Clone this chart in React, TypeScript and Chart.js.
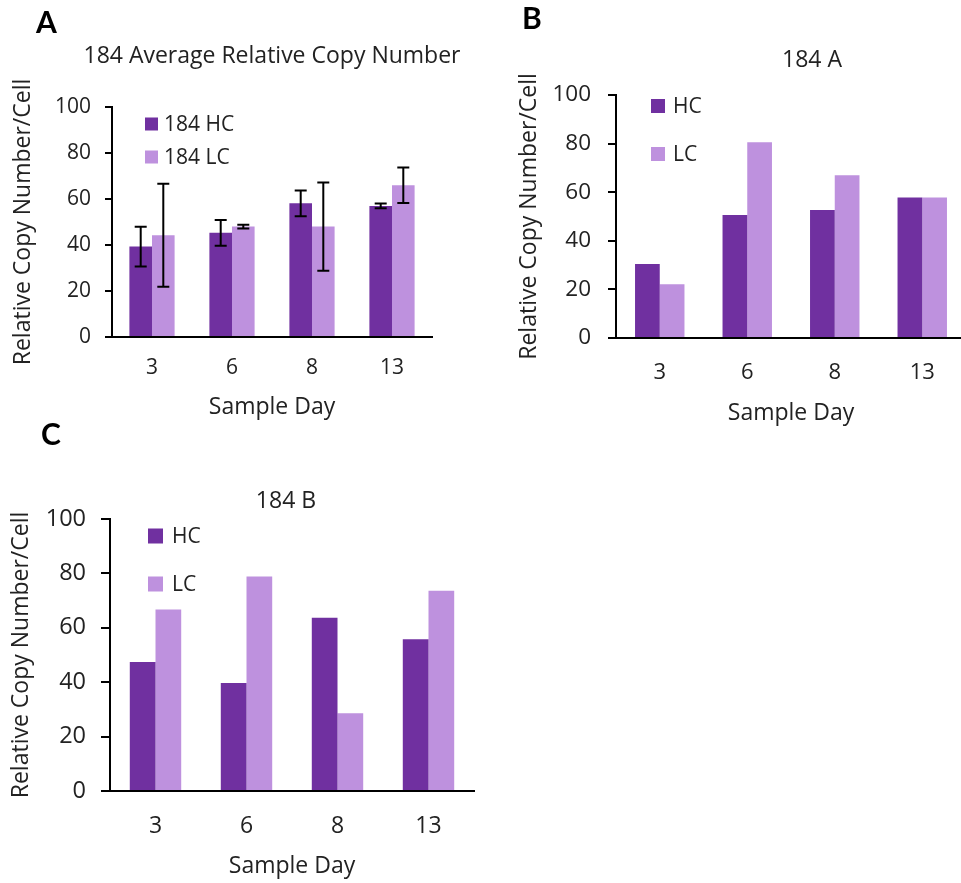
import React, { useEffect, useRef } from 'react';
import { Chart, registerables } from 'chart.js';

Chart.register(...registerables);

// ---------- data ----------
const categories = ['3', '6', '8', '13'];
const yTickValues = [0, 20, 40, 60, 80, 100];

// Panel A: 184 average
const avgHC = [39.3, 45.3, 58.1, 57.0];
const avgHCErr = [8.6, 5.6, 5.6, 1.0];
const avgLC = [44.2, 48.0, 48.0, 66.0];
const avgLCErr = [22.4, 0.8, 19.2, 7.7];

// Panel B: 184 A
const aHC = [30.5, 50.6, 52.7, 57.8];
const aLC = [22.1, 80.6, 67.0, 57.8];

// Panel C: 184 B
const bHC = [47.4, 39.7, 63.7, 55.8];
const bLC = [66.7, 78.9, 28.6, 73.6];

// ---------- styles ----------
const HC_COLOR = '#7030A0';
const LC_COLOR = '#BE91DE';
const TEXT = '#222222';
const FONT = "'Open Sans', sans-serif";
const LETTER_FONT = "Lato, 'Open Sans', sans-serif";

const decorPlugin = {
  id: 'decor',
  afterDatasetsDraw(chart: any, _args: any, opts: any) {
    const ctx = chart.ctx;
    const ys = chart.scales.y;
    chart.data.datasets.forEach((ds: any, di: number) => {
      const errs = ds.errors;
      if (!errs) return;
      const meta = chart.getDatasetMeta(di);
      meta.data.forEach((bar: any, i: number) => {
        const v = ds.data[i];
        const e = errs[i];
        const x = bar.x;
        const yT = ys.getPixelForValue(v + e);
        const yB = ys.getPixelForValue(v - e);
        const c = opts.capWidth / 2;
        ctx.save();
        ctx.strokeStyle = '#000';
        ctx.lineWidth = 2;
        ctx.beginPath();
        ctx.moveTo(x, yT);
        ctx.lineTo(x, yB);
        ctx.moveTo(x - c, yT);
        ctx.lineTo(x + c, yT);
        ctx.moveTo(x - c, yB);
        ctx.lineTo(x + c, yB);
        ctx.stroke();
        ctx.restore();
      });
    });
  },
  afterDraw(chart: any, _args: any, opts: any) {
    const ctx = chart.ctx;
    ctx.save();
    // panel letter
    ctx.fillStyle = '#000';
    ctx.font = `bold ${opts.letterSize}px ${LETTER_FONT}`;
    ctx.textAlign = 'left';
    ctx.textBaseline = 'alphabetic';
    ctx.fillText(opts.letter, opts.letterX, opts.letterY);
    // title
    ctx.fillStyle = TEXT;
    ctx.font = `23px ${FONT}`;
    ctx.textAlign = 'center';
    ctx.fillText(opts.title, opts.titleX, opts.titleY);
    // legend
    const lg = opts.legend;
    ctx.font = `${lg.fontSize}px ${FONT}`;
    ctx.textAlign = 'left';
    ctx.textBaseline = 'middle';
    chart.data.datasets.forEach((ds: any, i: number) => {
      const cy = lg.y + i * lg.gap;
      ctx.fillStyle = ds.backgroundColor;
      ctx.fillRect(lg.boxX, cy - lg.box / 2, lg.box, lg.box);
      ctx.fillStyle = TEXT;
      ctx.fillText(ds.label, lg.textX, cy + 1);
    });
    ctx.restore();
  },
};

type Spec = {
  hc: number[];
  lc: number[];
  hcErr?: number[];
  lcErr?: number[];
  hcLabel: string;
  lcLabel: string;
  title: string;
  letter: string;
  left: number;
  top: number;
  width: number;
  height: number;
  yWidth: number;
  xHeight: number;
  padTop: number;
  padRight: number;
  yTitlePad: number;
  yTickPad: number;
  yTickLen: number;
  yTickFont: number;
  xTickPad: number;
  xTickFont: number;
  xTitlePad: number;
  titleX: number;
  titleY: number;
  letterX: number;
  letterY: number;
  letterSize: number;
  legend: { boxX: number; box: number; textX: number; y: number; gap: number; fontSize: number };
};

function buildConfig(s: Spec): any {
  return {
    type: 'bar',
    data: {
      labels: categories,
      datasets: [
        {
          label: s.hcLabel,
          data: s.hc,
          errors: s.hcErr,
          backgroundColor: HC_COLOR,
          borderWidth: 0,
          barPercentage: 1,
          categoryPercentage: 0.565,
        },
        {
          label: s.lcLabel,
          data: s.lc,
          errors: s.lcErr,
          backgroundColor: LC_COLOR,
          borderWidth: 0,
          barPercentage: 1,
          categoryPercentage: 0.565,
        },
      ],
    },
    options: {
      responsive: false,
      animation: false,
      devicePixelRatio: 1,
      layout: { padding: { left: 0, top: s.padTop, right: s.padRight, bottom: 0 } },
      plugins: {
        legend: { display: false },
        title: { display: false },
        tooltip: { enabled: false },
        decor: {
          capWidth: 12,
          letter: s.letter,
          letterX: s.letterX,
          letterY: s.letterY,
          letterSize: s.letterSize,
          title: s.title,
          titleX: s.titleX,
          titleY: s.titleY,
          legend: s.legend,
        },
      },
      scales: {
        x: {
          type: 'category',
          offset: true,
          grid: { display: false, drawTicks: false },
          border: { display: true, color: '#000', width: 2 },
          ticks: { color: TEXT, font: { family: FONT, size: s.xTickFont }, padding: s.xTickPad },
          title: {
            display: true,
            text: 'Sample Day',
            color: TEXT,
            font: { family: FONT, size: 23 },
            padding: { top: 0, bottom: s.xTitlePad },
          },
          afterFit: (sc: any) => {
            sc.height = s.xHeight;
          },
        },
        y: {
          min: 0,
          max: 100,
          afterBuildTicks: (sc: any) => {
            sc.ticks = yTickValues.map((v) => ({ value: v }));
          },
          grid: {
            display: true,
            drawOnChartArea: false,
            drawTicks: true,
            tickLength: s.yTickLen,
            color: '#000',
            lineWidth: 2,
          },
          border: { display: true, color: '#000', width: 2 },
          ticks: { color: TEXT, font: { family: FONT, size: s.yTickFont }, padding: s.yTickPad },
          title: {
            display: true,
            text: 'Relative Copy Number/Cell',
            color: TEXT,
            font: { family: FONT, size: 23 },
            padding: { top: s.yTitlePad, bottom: 0 },
          },
          afterFit: (sc: any) => {
            sc.width = s.yWidth;
          },
        },
      },
    },
    plugins: [decorPlugin],
  };
}

const panelA: Spec = {
  hc: avgHC,
  lc: avgLC,
  hcErr: avgHCErr,
  lcErr: avgLCErr,
  hcLabel: '184 HC',
  lcLabel: '184 LC',
  title: '184 Average Relative Copy Number',
  letter: 'A',
  left: 0,
  top: 0,
  width: 480,
  height: 430,
  yWidth: 112,
  xHeight: 93,
  padTop: 107,
  padRight: 48,
  yTitlePad: 10,
  yTickPad: 14,
  yTickLen: 7,
  yTickFont: 21,
  xTickPad: 18,
  xTickFont: 21,
  xTitlePad: 9,
  titleX: 272,
  titleY: 63,
  letterX: 36,
  letterY: 33,
  letterSize: 30,
  legend: { boxX: 145, box: 13, textX: 164, y: 124, gap: 33, fontSize: 21 },
};

const panelB: Spec = {
  hc: aHC,
  lc: aLC,
  hcLabel: 'HC',
  lcLabel: 'LC',
  title: '184 A',
  letter: 'B',
  left: 490,
  top: 0,
  width: 480,
  height: 430,
  yWidth: 126,
  xHeight: 92,
  padTop: 95,
  padRight: 4,
  yTitlePad: 26,
  yTickPad: 17,
  yTickLen: 8,
  yTickFont: 22.5,
  xTickPad: 22,
  xTickFont: 22,
  xTitlePad: 3,
  titleX: 322,
  titleY: 67,
  letterX: 32,
  letterY: 29,
  letterSize: 30,
  legend: { boxX: 161, box: 14, textX: 183, y: 106, gap: 48, fontSize: 21 },
};

const panelC: Spec = {
  hc: bHC,
  lc: bLC,
  hcLabel: 'HC',
  lcLabel: 'LC',
  title: '184 B',
  letter: 'C',
  left: 0,
  top: 410,
  width: 480,
  height: 473,
  yWidth: 110,
  xHeight: 92,
  padTop: 109,
  padRight: 6,
  yTitlePad: 8,
  yTickPad: 15,
  yTickLen: 9,
  yTickFont: 23.5,
  xTickPad: 22,
  xTickFont: 23,
  xTitlePad: 2.5,
  titleX: 286,
  titleY: 98,
  letterX: 41,
  letterY: 35,
  letterSize: 30,
  legend: { boxX: 148, box: 15, textX: 172, y: 126, gap: 48, fontSize: 21 },
};

function Panel({ spec }: { spec: Spec }) {
  const ref = useRef<HTMLCanvasElement>(null);
  useEffect(() => {
    if (!ref.current) return;
    const chart = new Chart(ref.current, buildConfig(spec));
    return () => chart.destroy();
  }, [spec]);
  return (
    <canvas
      ref={ref}
      width={spec.width}
      height={spec.height}
      style={{
        position: 'absolute',
        left: spec.left,
        top: spec.top,
        width: spec.width,
        height: spec.height,
      }}
    />
  );
}

export default function App() {
  return (
    <div
      style={{
        position: 'absolute',
        left: 0,
        top: 0,
        width: 961,
        height: 883,
        overflow: 'hidden',
        background: '#ffffff',
      }}
    >
      <Panel spec={panelA} />
      <Panel spec={panelB} />
      <Panel spec={panelC} />
    </div>
  );
}
